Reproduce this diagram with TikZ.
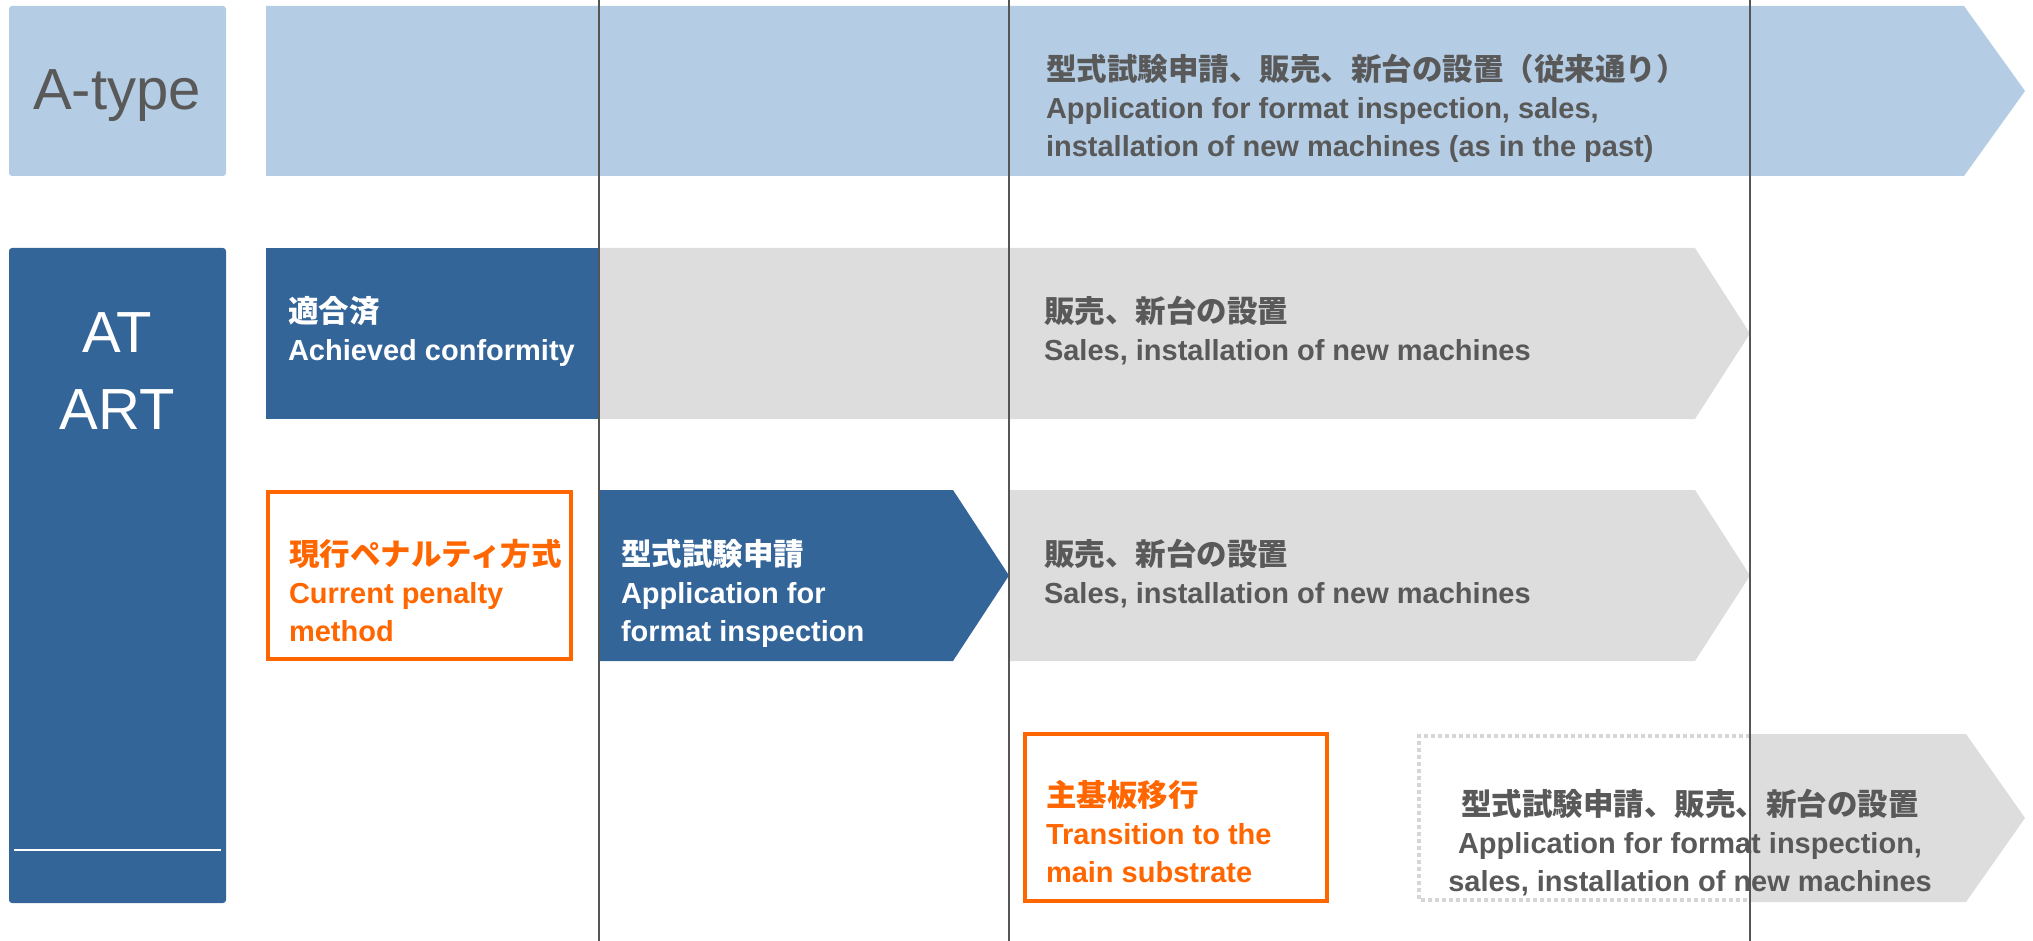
\documentclass[tikz,border=0pt]{standalone}
\usepackage{fontspec}
\setmainfont{Liberation Sans}
\newfontfamily\jpfont{Noto Sans CJK JP}
\usetikzlibrary{positioning}

\definecolor{atypeblue}{RGB}{180,204,228}
\definecolor{artblue}{RGB}{52,101,153}
\definecolor{salesgrey}{RGB}{221,221,221}
\definecolor{labelgrey}{RGB}{89,89,89}
\definecolor{penaltyorange}{RGB}{255,102,0}
\definecolor{dotgrey}{RGB}{214,214,214}
\definecolor{gridgrey}{RGB}{85,85,85}

\newcommand\jpline[1]{{\jpfont\fontsize{30.5}{38}\selectfont\rule{0pt}{30pt}#1}}

\begin{document}
\begin{tikzpicture}[
		x=1pt, y=-1pt,
		every node/.style = {inner sep=0pt, outer sep=0pt},
		lbl/.style = {
			font=\bfseries\fontsize{29}{38}\selectfont,
			align=left, anchor=north west, text=labelgrey
		},
		head/.style = {font=\fontsize{58}{70}\selectfont, anchor=base},
		frame/.style = {draw=penaltyorange, line width=4pt},
		]
		\useasboundingbox (0,0) rectangle (2033,941);
		
		% A-type row
		\fill[atypeblue, rounded corners=3pt] (9,6) rectangle (226,176);
		\fill[atypeblue] (266,6) -- (1964,6) -- (2025,91) -- (1964,176) -- (266,176) -- cycle;
		
		% AT / ART rows
		\fill[artblue, rounded corners=3pt] (9,248) rectangle (226,903);
		\draw[white, line width=1.2pt] (14,850) -- (221,850);
		\fill[artblue] (266,248) rectangle (599,419);
		\fill[salesgrey] (599,248) -- (1695,248) -- (1750,333.5) -- (1695,419) -- (599,419) -- cycle;
		
		\draw[frame] (268,492) rectangle (571,659);
		\fill[artblue] (599,490) -- (953,490) -- (1009,575.5) -- (953,661) -- (599,661) -- cycle;
		\fill[salesgrey] (1009,490) -- (1695,490) -- (1750,575.5) -- (1695,661) -- (1009,661) -- cycle;
		
		\draw[frame] (1025,734) rectangle (1327,901);
		\fill[salesgrey] (1750,734) -- (1966,734) -- (2025,818) -- (1966,902) -- (1750,902) -- cycle;
		\draw[dotgrey, line width=3.5pt, dash pattern=on 4pt off 3pt]
			(1750,736) -- (1419,736) -- (1419,900) -- (1750,900);
		
		\node[head, text=labelgrey] (atype) at (117,110) {A-type};
		\node[head, text=white] (at) at (117,352) {AT};
		\node[head, text=white] (art) at (117,429) {ART};
		
		\node[lbl] (legacy) at (1046,51) {\jpline{型式試験申請、販売、新台の設置（従来通り）}\\Application for format inspection, sales,\\installation of new machines (as in the past)};
		\node[lbl, text=white] (conform) at (288,292) {\jpline{適合済}\\Achieved conformity};
		\node[lbl] (salesA) at (1044,292) {\jpline{販売、新台の設置}\\Sales, installation of new machines};
		\node[lbl, text=penaltyorange] (penalty) at (289,535) {\jpline{現行ペナルティ方式}\\Current penalty\\method};
		\node[lbl, text=white] (apply) at (621,535) {\jpline{型式試験申請}\\Application for\\format inspection};
		\node[lbl] (salesB) at (1044,535) {\jpline{販売、新台の設置}\\Sales, installation of new machines};
		\node[lbl, text=penaltyorange] (board) at (1046,776) {\jpline{主基板移行}\\Transition to the\\main substrate};
		\node[lbl, align=center, anchor=north] (future) at (1690,785) {\jpline{型式試験申請、販売、新台の設置}\\Application for format inspection,\\sales, installation of new machines};
		
		% period lines
		\draw[gridgrey, line width=1.6pt] (599,0) -- (599,941);
		\draw[gridgrey, line width=1.6pt] (1009,0) -- (1009,941);
		\draw[gridgrey, line width=1.6pt] (1750,0) -- (1750,941);
	\end{tikzpicture}
\end{document}
